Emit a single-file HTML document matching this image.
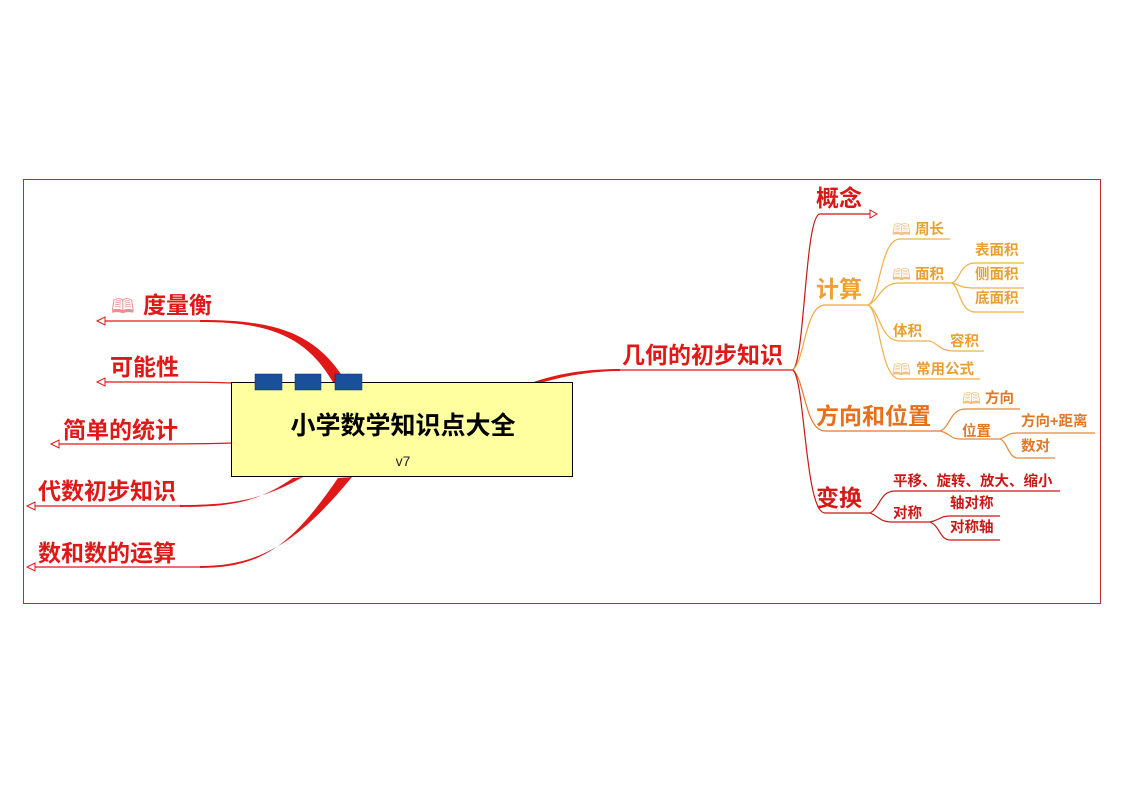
<!DOCTYPE html>
<html><head><meta charset="utf-8"><style>
html,body{margin:0;padding:0;background:#fff;}
svg{display:block;}
text{font-family:"Liberation Sans","Noto Sans CJK SC",sans-serif;font-weight:bold;}
text.n{font-weight:normal;}
</style></head><body>
<svg width="1123" height="794" viewBox="0 0 1123 794" xmlns="http://www.w3.org/2000/svg">
<rect x="23.5" y="179.5" width="1077" height="424" fill="none" stroke="#c8282a" stroke-width="1"/>

<!-- left tapered branches -->
<g fill="#e01818" stroke="none">
<path d="M346 382 C315 330 270 320 200 320 L200 322 C268 322 306 335 334 384 Z"/>
<path d="M303 477 C262 500 232 505 180 505 L180 507 C232 507 258 502 293 478 Z"/>
<path d="M352 477 C300 540 262 566 200 566 L200 568 C262 568 292 545 338 478 Z"/>
<path d="M528 384 C560 372 592 369 620 369 L620 371 C592 371 562 376 534 385 Z"/>
</g>
<g fill="none" stroke="#e01818" stroke-width="1.3">
<path d="M200 321 L104 321"/>
<path d="M232 383 C200 382 190 382 104 382"/>
<path d="M232 443 C200 444 190 444 58 444"/>
<path d="M180 506 L34 506"/>
<path d="M200 567 L34 567"/>
<path d="M620 370 L793 370"/>
</g>
<g fill="#fff" stroke="#e01818" stroke-width="1">
<path d="M97 321 L105 317 L105 325 Z"/>
<path d="M97 382 L105 378 L105 386 Z"/>
<path d="M51 444 L59 440 L59 448 Z"/>
<path d="M27 506 L35 502 L35 510 Z"/>
<path d="M27 567 L35 563 L35 571 Z"/>
</g>
<g fill="#e01818" font-size="23">
<text x="143" y="313">度量衡</text>
<text x="110" y="375">可能性</text>
<text x="63" y="438">简单的统计</text>
<text x="38" y="499">代数初步知识</text>
<text x="38" y="561">数和数的运算</text>
<text x="622" y="363">几何的初步知识</text>
</g>
<text x="111" y="313" font-size="20" fill="#e89090" class="n">🕮</text>

<!-- central -->
<rect x="231.5" y="382.5" width="341" height="94" fill="#ffffa0" stroke="#000" stroke-width="1"/>
<g fill="#1a4f9a" stroke="#0a2a60" stroke-width="0.5">
<rect x="255" y="374" width="27" height="16"/><rect x="295" y="374" width="26" height="16"/><rect x="335" y="374" width="27" height="16"/>
</g>
<text x="403" y="434" font-size="25" text-anchor="middle" fill="#000">小学数学知识点大全</text>
<text x="403" y="466" font-size="14" text-anchor="middle" fill="#222" class="n">v7</text>

<!-- right tree -->
<g fill="none" stroke-width="1.2">
<path d="M793 370 C805 360 805 214 820 214 L871 214" stroke="#c81818"/>
<path d="M793 370 C805 360 805 305 825 305 L868 305" stroke="#f0a838"/>
<path d="M793 370 C805 380 805 431 825 431 L940 431" stroke="#e87828"/>
<path d="M793 370 C805 380 805 513 825 513 L870 513" stroke="#c81818"/>
<g stroke="#f0b048">
<path d="M868 305 C880 300 880 239 900 239 L950 239"/>
<path d="M868 305 C880 300 880 283 900 283 L952 283"/>
<path d="M868 305 C880 310 880 341 900 341 L930 341 C940 345 940 351 955 351 L984 351"/>
<path d="M868 305 C880 310 880 379 900 379 L980 379"/>
<path d="M952 283 C960 280 960 263 975 263 L1024 263"/>
<path d="M952 283 C960 285 960 288 975 288 L1024 288"/>
<path d="M952 283 C960 288 960 312 975 312 L1024 312"/>
</g>
<g stroke="#e88838">
<path d="M940 431 C950 428 950 409 965 409 L1020 409"/>
<path d="M940 431 C950 433 950 439 960 439 L1000 439"/>
<path d="M1000 439 C1008 436 1008 433 1018 433 L1095 433"/>
<path d="M1000 439 C1008 442 1008 458 1018 458 L1055 458"/>
</g>
<g stroke="#c81818">
<path d="M870 513 C880 508 880 491 895 491 L1060 491"/>
<path d="M870 513 C880 517 880 522 892 522 L930 522"/>
<path d="M930 522 C940 520 940 516 950 516 L1000 516"/>
<path d="M930 522 C940 526 940 540 950 540 L1000 540"/>
</g>
</g>
<path d="M870 210 L877 214 L870 218 Z" fill="#fff" stroke="#c81818"/>

<g fill="#d81818" font-size="23"><text x="816" y="206">概念</text><text x="816" y="506">变换</text></g>
<text x="816" y="297" font-size="23" fill="#f0a030">计算</text>
<text x="816" y="424" font-size="23" fill="#e8701a">方向和位置</text>
<g font-size="14.5" fill="#e8a030">
<text x="915" y="234">周长</text><text x="915" y="279">面积</text>
<text x="975" y="255">表面积</text><text x="975" y="279">侧面积</text><text x="975" y="303">底面积</text>
<text x="893" y="336">体积</text><text x="950" y="346">容积</text><text x="916" y="374">常用公式</text>
</g>
<g font-size="14.5" fill="#e07828">
<text x="985" y="403">方向</text><text x="962" y="436">位置</text>
<text x="1021" y="426">方向+距离</text><text x="1021" y="451">数对</text>
</g>
<g font-size="14.5" fill="#c81818">
<text x="893" y="486">平移、旋转、放大、缩小</text><text x="893" y="518">对称</text>
<text x="950" y="508">轴对称</text><text x="950" y="532">对称轴</text>
</g>
<g font-size="16" fill="#f0c080" class="n">
<text x="892" y="235" class="n">🕮</text><text x="892" y="280" class="n">🕮</text><text x="892" y="375" class="n">🕮</text><text x="962" y="404" class="n">🕮</text>
</g>
</svg>
</body></html>
